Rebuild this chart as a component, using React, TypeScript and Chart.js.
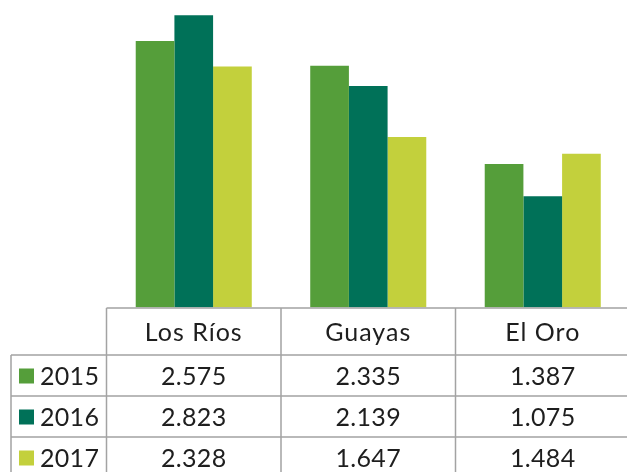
import React, { useEffect, useRef } from "react";
import { Chart, registerables } from "chart.js";

Chart.register(...registerables);

const categories = ["Los Ríos", "Guayas", "El Oro"];
const years = ["2015", "2016", "2017"];
const values2015 = [2.575, 2.335, 1.387];
const values2016 = [2.823, 2.139, 1.075];
const values2017 = [2.328, 1.647, 1.484];
const seriesValues = [values2015, values2016, values2017];
const colors = ["#559E3A", "#007158", "#C3D03C"];

const fmt = (v: number) => v.toFixed(3);

const FONT = "Lato, 'DejaVu Sans', sans-serif";

const tablePlugin = {
  id: "dataTable",
  afterDraw(chart: any) {
    const ctx = chart.ctx as CanvasRenderingContext2D;
    const xs = chart.scales.x;
    const area = chart.chartArea;
    const n = categories.length;
    const colW = (area.right - area.left) / n;
    const top = area.bottom + 0.5;
    const headerH = 47;
    const rowH = 41;
    const leftX = 11;
    const bottom = chart.height;
    ctx.save();
    ctx.strokeStyle = "#a3a3a3";
    ctx.lineWidth = 1.5;
    ctx.beginPath();
    ctx.moveTo(area.left, top);
    ctx.lineTo(chart.width, top);
    for (let r = 0; r < years.length; r++) {
      const y = top + headerH + r * rowH;
      ctx.moveTo(leftX, y);
      ctx.lineTo(chart.width, y);
    }
    ctx.moveTo(leftX, top + headerH);
    ctx.lineTo(leftX, bottom);
    for (let c = 0; c < n; c++) {
      const x = area.left + c * colW;
      ctx.moveTo(x, top);
      ctx.lineTo(x, bottom);
    }
    ctx.stroke();

    ctx.fillStyle = "#1e1e1e";
    ctx.font = `25px ${FONT}`;
    ctx.textAlign = "center";
    ctx.textBaseline = "middle";
    (ctx as any).letterSpacing = "1px";
    categories.forEach((cat, i) => {
      ctx.fillText(cat, xs.getPixelForValue(i), top + headerH / 2 + 1);
    });
    (ctx as any).letterSpacing = "0.3px";
    years.forEach((yr, r) => {
      const cy = top + headerH + r * rowH + rowH / 2 + 1;
      ctx.fillStyle = colors[r];
      ctx.fillRect(19, cy - 8, 15, 15);
      ctx.fillStyle = "#1e1e1e";
      ctx.textAlign = "left";
      ctx.fillText(yr, 40, cy);
      ctx.textAlign = "center";
      seriesValues[r].forEach((v, i) => {
        ctx.fillText(fmt(v), xs.getPixelForValue(i), cy);
      });
    });
    ctx.restore();
  },
};

export default function App() {
  const ref = useRef<HTMLCanvasElement | null>(null);
  useEffect(() => {
    if (!ref.current) return;
    const chart = new Chart(ref.current, {
      type: "bar",
      data: {
        labels: categories,
        datasets: years.map((yr, i) => ({
          label: yr,
          data: seriesValues[i],
          backgroundColor: colors[i],
          borderWidth: 0,
          categoryPercentage: 0.665,
          barPercentage: 1,
        })),
      },
      options: {
        responsive: false,
        animation: false,
        layout: { padding: { left: 106.5, right: 0, top: 0, bottom: 164.5 } },
        plugins: {
          legend: { display: false },
          tooltip: { enabled: false },
          title: { display: false },
        },
        scales: {
          x: { display: false },
          y: { display: false, min: 0, max: 2.97 },
        },
      },
      plugins: [tablePlugin],
    });
    return () => chart.destroy();
  }, []);
  return (
    <div
      style={{
        position: "absolute",
        left: 0,
        top: 0,
        width: 627,
        height: 472,
        overflow: "hidden",
        background: "#ffffff",
      }}
    >
      <canvas ref={ref} width={630} height={472} style={{ display: "block" }} />
    </div>
  );
}
